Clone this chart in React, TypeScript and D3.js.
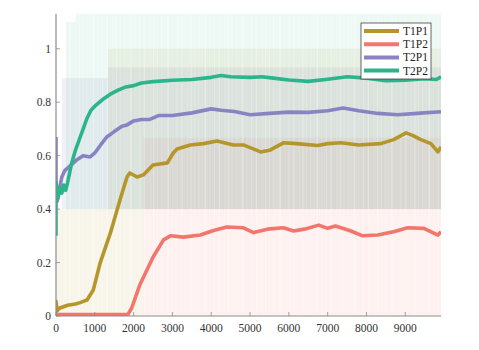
import React from "react";
import * as d3 from "d3";

// smoothed success rate per episode (x = episode, y = rate)
const t1p1: [number, number][] = [
  [0, 0.0], [0, 0.055], [30, 0.02], [100, 0.03], [300, 0.04], [500, 0.045], [620, 0.05], [800, 0.06],
  [960, 0.097], [1140, 0.2], [1400, 0.31], [1650, 0.435], [1830, 0.52], [1900, 0.535], [2090, 0.52],
  [2250, 0.528], [2500, 0.565], [2870, 0.573], [3020, 0.61], [3120, 0.625], [3460, 0.64], [3800, 0.645],
  [4150, 0.655], [4570, 0.64], [4830, 0.64], [5270, 0.614], [5500, 0.62], [5860, 0.648], [6200, 0.645],
  [6740, 0.638], [7000, 0.645], [7340, 0.648], [7800, 0.64], [8370, 0.645], [8700, 0.66], [9020, 0.685],
  [9200, 0.675], [9400, 0.66], [9660, 0.645], [9840, 0.614], [9920, 0.633],
];
const t1p2: [number, number][] = [
  [0, 0.005], [1850, 0.005], [1950, 0.03], [2170, 0.12], [2500, 0.22], [2770, 0.285], [2950, 0.3],
  [3280, 0.295], [3720, 0.303], [4060, 0.32], [4400, 0.333], [4830, 0.33], [5090, 0.312], [5450, 0.325],
  [5860, 0.33], [6120, 0.318], [6400, 0.325], [6770, 0.34], [7000, 0.328], [7200, 0.337], [7600, 0.318],
  [7900, 0.3], [8290, 0.303], [8700, 0.315], [9060, 0.33], [9480, 0.328], [9840, 0.303], [9920, 0.315],
];
const t2p1: [number, number][] = [
  [0, 0.67], [0, 0.45], [30, 0.43], [80, 0.47], [150, 0.52], [230, 0.545], [350, 0.56], [540, 0.585],
  [700, 0.6], [880, 0.595], [1000, 0.61], [1150, 0.64], [1310, 0.67], [1500, 0.69], [1700, 0.71],
  [1830, 0.715], [2000, 0.73], [2200, 0.735], [2400, 0.735], [2640, 0.75], [3000, 0.75], [3500, 0.76],
  [4000, 0.775], [4250, 0.77], [4600, 0.765], [5000, 0.753], [5500, 0.758], [6000, 0.763], [6500, 0.762],
  [7000, 0.768], [7400, 0.778], [7800, 0.768], [8300, 0.758], [8800, 0.753], [9300, 0.758], [9920, 0.764],
];
const t2p2: [number, number][] = [
  [0, 0.3], [0, 0.5], [50, 0.44], [100, 0.48], [150, 0.46], [200, 0.49], [250, 0.47], [300, 0.5],
  [400, 0.57], [500, 0.62], [600, 0.66], [700, 0.7], [800, 0.74], [900, 0.77], [1000, 0.785], [1200, 0.81],
  [1400, 0.83], [1600, 0.845], [1800, 0.857], [2000, 0.862], [2200, 0.872], [2500, 0.877], [3000, 0.882],
  [3500, 0.885], [4000, 0.893], [4250, 0.9], [4500, 0.895], [5000, 0.893], [5300, 0.895], [5600, 0.89],
  [6000, 0.883], [6500, 0.878], [7000, 0.886], [7500, 0.895], [8000, 0.89], [8500, 0.88], [9000, 0.882],
  [9500, 0.888], [9800, 0.885], [9920, 0.895],
];

// spread of the raw (unsmoothed) values: [fromEpisode, toEpisode, low, high]
const t1p1Raw: [number, number, number, number][] = [[0, 2250, 0, 0.4], [1340, 9920, 0.4, 1.0]];
const t1p2Raw: [number, number, number, number][] = [[2250, 9920, 0, 0.667]];
const t2p1Raw: [number, number, number, number][] = [[150, 1340, 0.4, 0.89], [1340, 9920, 0.4, 0.93]];
const t2p2Raw: [number, number, number, number][] = [[250, 500, 0.4, 1.1], [500, 9920, 0.4, 1.15]];

const labels = ["T1P1", "T1P2", "T2P1", "T2P2"];
const colors = ["#b5962b", "#f2766c", "#8983c4", "#2bb58a"];
const xTicks = [0, 1000, 2000, 3000, 4000, 5000, 6000, 7000, 8000, 9000];
const yTicks = [0, 0.2, 0.4, 0.6, 0.8, 1];

const W = 479;
const H = 350;
const font = "'Liberation Serif', 'DejaVu Serif', serif";

export default function App() {
  const x = d3.scaleLinear().domain([0, 9920]).range([56, 441]);
  const y = d3.scaleLinear().domain([0, 1.13]).range([316, 14]);
  const line = d3.line<[number, number]>().x(d => x(d[0])).y(d => y(d[1]));

  const series = [t1p1, t1p2, t2p1, t2p2];
  const raws = [t1p1Raw, t1p2Raw, t2p1Raw, t2p2Raw];
  const rawOpacity = [0.1, 0.11, 0.13, 0.09];

  // vertical streak texture (x, width, opacity)
  const stripes = [
    [0.5, 0.8, 0.35], [2.5, 0.5, 0.25], [4, 1.2, 0.4], [6.5, 0.6, 0.2], [8, 0.9, 0.35],
    [10.5, 0.5, 0.2], [12, 1.1, 0.3], [14.5, 0.6, 0.3], [16, 0.8, 0.2], [18.2, 1.4, 0.45],
    [21, 0.5, 0.25], [23, 0.9, 0.3], [25.5, 0.6, 0.2], [27.4, 1.0, 0.35], [30, 0.5, 0.2],
    [32, 1.3, 0.4], [35, 0.7, 0.25],
  ];

  return (
    <svg width={W} height={H} style={{ position: "absolute", left: 0, top: 0 }}>
      <defs>
        <clipPath id="plot">
          <rect x={56} y={14} width={385} height={302} />
        </clipPath>
        <pattern id="streaks" width={37.3} height={10} patternUnits="userSpaceOnUse">
          {stripes.map((s, i) => (
            <rect key={i} x={s[0]} y={0} width={s[1]} height={10} fill="#fff" opacity={s[2]} />
          ))}
        </pattern>
      </defs>

      <g clipPath="url(#plot)">
        {raws.map((bands, i) =>
          bands.map((b, j) => (
            <rect
              key={`${i}-${j}`}
              x={x(b[0])}
              y={y(b[3])}
              width={x(b[1]) - x(b[0])}
              height={y(b[2]) - y(b[3])}
              fill={colors[i]}
              opacity={rawOpacity[i]}
            />
          ))
        )}
        <rect x={56} y={14} width={385} height={302} fill="url(#streaks)" />

        {series.map((s, i) => (
          <path
            key={labels[i]}
            d={line(s) || ""}
            fill="none"
            stroke={colors[i]}
            strokeWidth={3.6}
            strokeLinejoin="round"
            strokeLinecap="butt"
          />
        ))}
      </g>

      {/* axes */}
      <line x1={56} x2={56} y1={14} y2={316} stroke="#8c8c8c" strokeWidth={1.2} />
      <line x1={56} x2={441} y1={316} y2={316} stroke="#8c8c8c" strokeWidth={1.2} />
      {xTicks.map(t => (
        <g key={t}>
          <line x1={x(t)} x2={x(t)} y1={316} y2={312} stroke="#8c8c8c" strokeWidth={0.8} />
          <text x={x(t)} y={332} textAnchor="middle" fontFamily={font} fontSize={11.5} fill="#333">
            {t}
          </text>
        </g>
      ))}
      {yTicks.map(t => (
        <g key={t}>
          <line x1={56} x2={60} y1={y(t)} y2={y(t)} stroke="#8c8c8c" strokeWidth={0.8} />
          <text x={51} y={y(t) + 4} textAnchor="end" fontFamily={font} fontSize={11.5} fill="#333">
            {t}
          </text>
        </g>
      ))}

      {/* legend */}
      <rect x={361} y={23} width={70} height={56} fill="#fff" stroke="#444" strokeWidth={0.8} />
      {labels.map((l, i) => (
        <g key={l}>
          <line x1={364} x2={399} y1={31 + i * 13.2} y2={31 + i * 13.2} stroke={colors[i]} strokeWidth={4} />
          <text x={403} y={35 + i * 13.2} fontFamily={font} fontSize={11.5} fill="#222">
            {l}
          </text>
        </g>
      ))}
    </svg>
  );
}
